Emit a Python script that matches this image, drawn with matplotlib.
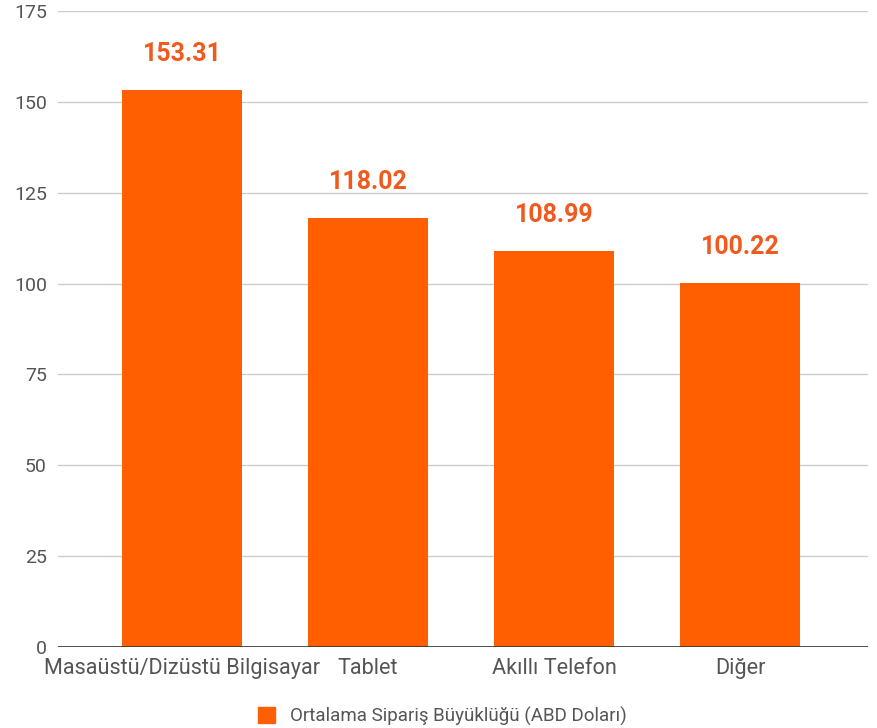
import matplotlib
matplotlib.use("Agg")
import matplotlib.pyplot as plt
from matplotlib.patches import Patch

categories = ["Masaüstü/Dizüstü Bilgisayar", "Tablet", "Akıllı Telefon", "Diğer"]
values = [153.31, 118.02, 108.99, 100.22]
value_labels = ["153.31", "118.02", "108.99", "100.22"]
y_ticks = [0, 25, 50, 75, 100, 125, 150, 175]
series_name = "Ortalama Sipariş Büyüklüğü (ABD Doları)"

bar_color = "#FF5F00"
label_color = "#F05A1E"

plt.rcParams["font.family"] = ["Roboto", "DejaVu Sans"]

fig = plt.figure(figsize=(8.77, 7.28), dpi=100)
ax = fig.add_axes([58 / 877, 1 - 647 / 728, 810 / 877, 636 / 728])

x = list(range(len(categories)))
ax.bar(x, values, width=0.645, color=bar_color, zorder=3)

for xi, v, lab in zip(x, values, value_labels):
    ax.annotate(lab, (xi, v), xytext=(0, 17), textcoords="offset points",
                ha="center", va="bottom", fontsize=18, fontweight="bold",
                color=label_color)

ax.set_xlim(-0.667, 3.688)
ax.set_ylim(0, 175)
ax.set_yticks(y_ticks)
ax.set_yticklabels([str(t) for t in y_ticks])
ax.set_xticks(x)
ax.set_xticklabels(categories)

ax.grid(axis="y", color="#CCCCCC", linewidth=1, zorder=0)
ax.axhline(0, color="#333333", linewidth=1.2, zorder=4)
for s in ax.spines.values():
    s.set_visible(False)

ax.tick_params(axis="y", length=0, pad=8, labelsize=14, labelcolor="#555555")
ax.tick_params(axis="x", length=0, pad=8, labelsize=15.6, labelcolor="#555555")

fig.legend(handles=[Patch(color=bar_color, label=series_name)],
           loc="center", bbox_to_anchor=(442 / 877, 1 - 716 / 728),
           frameon=False, fontsize=13.5, handlelength=0.9, handleheight=0.9,
           handletextpad=0.8, labelcolor="#555555")

fig.savefig("out.png", dpi=100, facecolor="white")
